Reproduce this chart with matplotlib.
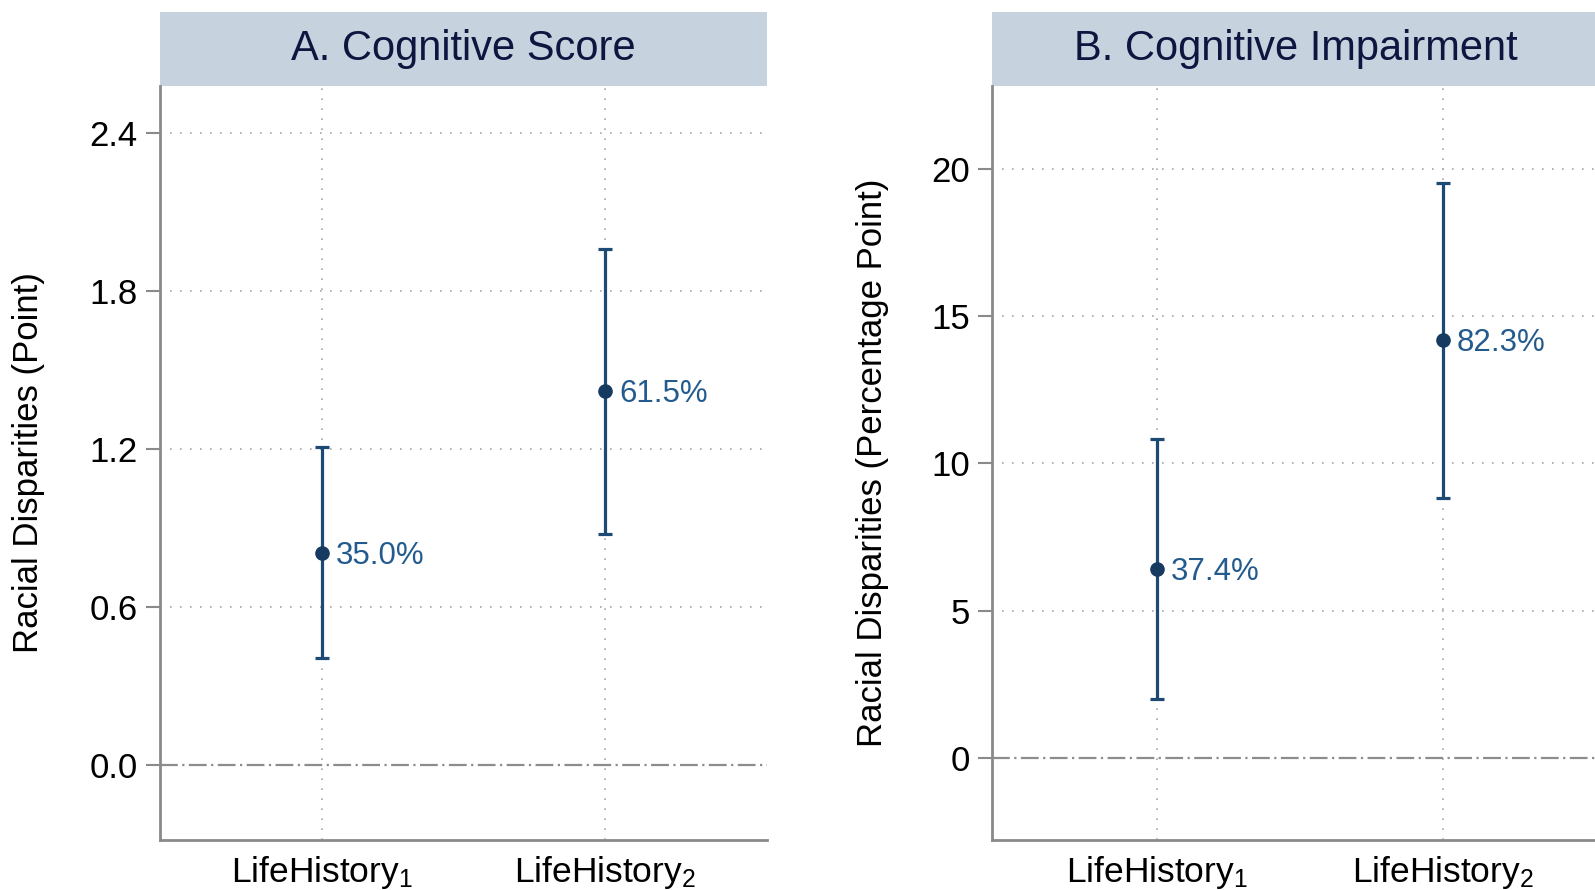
import matplotlib
matplotlib.use("Agg")
import matplotlib.pyplot as plt
from matplotlib.patches import Rectangle

plt.rcParams['font.family'] = ['Liberation Sans', 'DejaVu Sans']
plt.rcParams['mathtext.fontset'] = 'custom'
plt.rcParams['mathtext.rm'] = 'Liberation Sans'
plt.rcParams['mathtext.it'] = 'Liberation Sans:italic'

# data
categories = [r"LifeHistory$_1$", r"LifeHistory$_2$"]
x_pos = [1, 2]

score_est = [0.806, 1.42]
score_lo = [0.407, 0.878]
score_hi = [1.207, 1.96]
score_share = ["35.0%", "61.5%"]

impair_est = [6.42, 14.18]
impair_lo = [2.0, 8.83]
impair_hi = [10.83, 19.5]
impair_share = ["37.4%", "82.3%"]

titles = ["A. Cognitive Score", "B. Cognitive Impairment"]
ylabels = ["Racial Disparities (Point)", "Racial Disparities (Percentage Point)"]
yticks_a = [0.0, 0.6, 1.2, 1.8, 2.4]
yticks_b = [0, 5, 10, 15, 20]

LINE = '#1d4a75'
DOT = '#163a60'
TXT = '#235b8e'
GRID = '#a8a8a8'
SPINE = '#8a8a8a'
BOX = '#c6d3de'
TITLE = '#0e1640'

fig = plt.figure(figsize=(15.95, 8.9), dpi=100)
W, H = 1595, 890
ax_h = 754 / H
ax_w = 607 / W
ax_a = fig.add_axes([160 / W, 50 / H, ax_w, ax_h])
ax_b = fig.add_axes([992 / W, 50 / H, ax_w, ax_h])


def panel(ax, est, lo, hi, share, title, ylabel, yticks, xlim, ylim, fmt, labx):
    ax.set_xlim(*xlim)
    ax.set_ylim(*ylim)
    for xv in x_pos:
        ax.axvline(xv, color=GRID, lw=1.2, ls=(0, (1, 5)), zorder=0)
    for yv in yticks:
        if yv != 0:
            ax.axhline(yv, color=GRID, lw=1.2, ls=(0, (1, 5)), zorder=0)
    ax.axhline(0, color='#8c8c8c', lw=1.6, ls=(0, (8, 2, 1, 2)), zorder=1)
    yerr = [[e - l for e, l in zip(est, lo)], [h - e for e, h in zip(est, hi)]]
    ax.errorbar(x_pos, est, yerr=yerr, fmt='o', color=DOT, ecolor=LINE,
                elinewidth=2.3, capsize=4.8, capthick=2.3, markersize=9.5, zorder=3)
    for xv, yv, s in zip(x_pos, est, share):
        ax.annotate(s, (xv, yv), xytext=(10, -2), textcoords='offset points',
                    va='center', ha='left', fontsize=22.5, color=TXT)
    ax.set_xticks(x_pos)
    ax.set_xticklabels(categories, fontsize=25.5)
    ax.set_yticks(yticks)
    ax.set_yticklabels([fmt.format(v) for v in yticks], fontsize=25)
    ax.tick_params(axis='x', length=0, pad=10)
    ax.tick_params(axis='y', length=10, width=1.5, color=SPINE, pad=6)
    for side in ('top', 'right'):
        ax.spines[side].set_visible(False)
    for side in ('left', 'bottom'):
        ax.spines[side].set_color(SPINE)
        ax.spines[side].set_linewidth(2)
    ax.set_ylabel(ylabel, fontsize=25)
    ax.yaxis.set_label_coords(labx, 0.5)
    box_h = 74 / 754
    ax.add_patch(Rectangle((0, 1.0), 1, box_h, transform=ax.transAxes,
                           facecolor=BOX, edgecolor='none', clip_on=False))
    ax.text(0.5, 1 + box_h / 2, title, transform=ax.transAxes, ha='center',
            va='center', fontsize=30, color=TITLE)


panel(ax_a, score_est, score_lo, score_hi, score_share, titles[0], ylabels[0],
      yticks_a, (0.428, 2.572), (-0.285, 2.58), "{:.1f}", -0.19)
panel(ax_b, impair_est, impair_lo, impair_hi, impair_share, titles[1], ylabels[1],
      yticks_b, (0.423, 2.545), (-2.78, 22.8), "{:d}", -0.17)

fig.savefig("out.png", dpi=100)
